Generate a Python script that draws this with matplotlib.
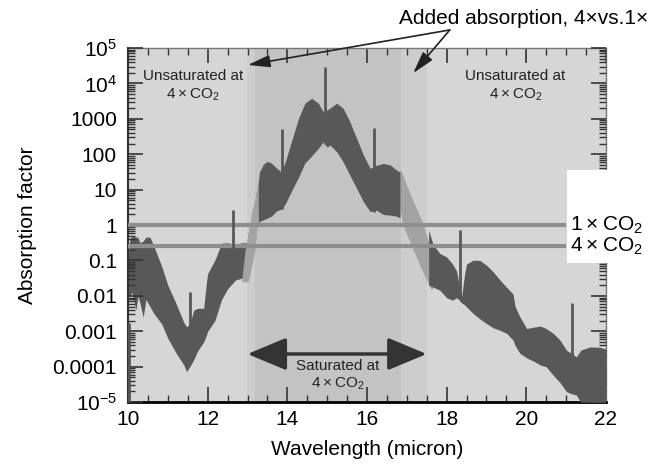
import numpy as np
import matplotlib.pyplot as plt
from matplotlib.ticker import MultipleLocator, FixedLocator, FixedFormatter, NullFormatter
from matplotlib.patches import Rectangle

plt.rcParams['font.family'] = ['Liberation Sans', 'DejaVu Sans']
plt.rcParams['mathtext.fontset'] = 'custom'
plt.rcParams['mathtext.rm'] = 'Liberation Sans'
plt.rcParams['mathtext.it'] = 'Liberation Sans:italic'

# spectrum envelopes, log10 of the absorption factor
# left wing (dark)
lw_x = [10.0, 10.05, 10.1, 10.2, 10.25, 10.3, 10.38, 10.45, 10.55, 10.65, 10.85, 11.0, 11.2, 11.4,
        11.47, 11.55, 11.65, 11.75, 11.9, 11.97, 12.0, 12.18, 12.35, 12.5, 12.7, 12.85, 12.98]
lw_hi = [-0.9, -0.37, -0.33, -0.33, -0.35, -0.5, -0.45, -0.34, -0.34, -0.6, -1.18, -1.7, -2.2, -2.75,
         -2.87, -2.8, -2.4, -2.35, -2.35, -1.6, -1.37, -0.99, -0.51, -0.5, -0.55, -0.5, -0.5]
lw_lo = [-2.0, -2.0, -1.9, -2.4, -2.0, -2.2, -2.6, -2.1, -2.3, -2.5, -2.8, -3.2, -3.6, -3.95,
         -4.14, -4.0, -3.8, -3.55, -3.3, -3.1, -3.0, -2.7, -2.1, -1.8, -1.55, -1.5, -1.45]

# central hump (dark)
hu_x = [13.27, 13.3, 13.4, 13.5, 13.6, 13.73, 13.85, 13.95, 14.1, 14.28, 14.44, 14.61, 14.78, 14.9,
        15.0, 15.07, 15.24, 15.4, 15.57, 15.74, 15.91, 16.08, 16.24, 16.41, 16.58, 16.75, 16.83]
hu_hi = [1.2, 1.5, 1.72, 1.8, 1.75, 1.61, 1.5, 1.79, 2.35, 3.01, 3.44, 3.58, 3.44, 3.2,
         3.25, 3.3, 3.44, 3.3, 2.92, 2.45, 1.98, 1.6, 1.69, 1.74, 1.7, 1.55, 1.5]
hu_lo = [0.0, 0.1, 0.15, 0.2, 0.25, 0.4, 0.45, 0.6, 0.95, 1.35, 1.75, 1.95, 2.17, 2.35,
         2.2, 2.26, 2.07, 1.79, 1.41, 1.04, 0.66, 0.38, 0.42, 0.3, 0.28, 0.25, 0.2]

# right wing (dark)
rw_x = [17.55, 17.66, 17.83, 18.0, 18.15, 18.25, 18.3, 18.38, 18.45, 18.5, 18.67, 18.84, 19.0, 19.17,
        19.34, 19.51, 19.67, 19.72, 19.84, 20.01, 20.2, 20.35, 20.5, 20.68, 20.85, 21.01, 21.1,
        21.26, 21.37, 21.6, 21.85, 22.0]
rw_hi = [-0.14, -0.55, -0.8, -0.9, -1.1, -1.3, -1.6, -2.0, -1.4, -1.1, -0.99, -1.0, -1.13, -1.32,
         -1.55, -1.76, -1.95, -2.3, -2.59, -2.92, -2.88, -2.85, -2.92, -3.06, -3.25, -3.53, -3.6,
         -3.72, -3.53, -3.44, -3.45, -3.5]
rw_lo = [-1.7, -1.75, -1.84, -2.05, -2.12, -2.05, -2.1, -2.2, -2.25, -2.31, -2.5, -2.65, -2.78, -2.9,
         -2.97, -3.06, -3.25, -3.4, -3.62, -3.75, -3.85, -3.95, -4.0, -4.24, -4.45, -4.7, -4.75,
         -4.8, -5.0, -5.0, -5.0, -5.0]

# light parts of the spectrum (added absorption), given as x edges per log level
ll_y = [-1.6, -0.7, 0.33, 0.99, 1.2]
ll_xl = [12.85, 12.94, 13.1, 13.23, 13.27]
ll_xr = [13.02, 13.19, 13.27, 13.29, 13.29]
rl_y = [-1.8, -1.2, -0.61, 0.0, 0.5, 1.0, 1.55]
rl_xl = [17.6, 17.35, 17.13, 16.9, 16.83, 16.83, 16.83]
rl_xr = [17.66, 17.66, 17.58, 17.42, 17.23, 17.04, 16.85]

# narrow spikes
spike_x = [10.02, 11.56, 12.64, 13.87, 14.95, 16.17, 18.34, 21.16]
spike_top = [-2.77, -1.88, 0.42, 2.7, 4.47, 2.73, -0.14, -2.21]
spike_bot = [-5.0, -2.9, -0.75, 0.45, 2.3, 0.38, -2.1, -4.7]

# thresholds
thresholds = [1.0, 0.25]
threshold_labels = ['1\u2009×\u2009CO$_2$', '4\u2009×\u2009CO$_2$']

# shaded wavelength bands
sat_band = (13.2, 16.85)
added_bands = [(12.98, 13.2), (16.85, 17.5)]

yticks = [1e5, 1e4, 1e3, 1e2, 1e1, 1, 0.1, 0.01, 0.001, 0.0001, 1e-5]
ytick_labels = ['$10^5$', '$10^4$', '1000', '100', '10', '1', '0.1', '0.01', '0.001', '0.0001', '$10^{-5}$']
yminor = [m * d for d in yticks[1:] for m in range(2, 10)]

dark = '#585858'
light = '#a3a3a3'

fig = plt.figure(figsize=(6.6, 4.66), dpi=100)
ax = fig.add_axes([0.194, 0.137, 0.724, 0.760])
ax.set_facecolor('#d6d6d6')
ax.set_yscale('log')
ax.set_xlim(10, 22)
ax.set_ylim(1e-5, 1e5)

ax.axvspan(*sat_band, color='#c3c3c3', lw=0, zorder=0.5)
for b in added_bands:
    ax.axvspan(*b, color='#cdcdcd', lw=0, zorder=0.5)

p = lambda a: 10.0 ** np.array(a)
ax.fill_between(lw_x, p(lw_lo), p(lw_hi), color=dark, lw=0, zorder=3)
ax.fill_betweenx(p(ll_y), ll_xl, ll_xr, color=light, lw=0, zorder=3.1)
ax.fill_betweenx(p(rl_y), rl_xl, rl_xr, color=light, lw=0, zorder=3.1)
ax.fill_between(hu_x, p(hu_lo), p(hu_hi), color=dark, lw=0, zorder=3.2)
ax.fill_between(rw_x, p(rw_lo), p(rw_hi), color=dark, lw=0, zorder=3.4)

ax.hlines(thresholds, 10, 21.0, color='#8e8e8e', lw=3, zorder=4)
ax.vlines(spike_x, p(spike_bot), p(spike_top), color=dark, lw=2, zorder=5)

# white box behind the threshold labels
ax.add_patch(Rectangle((0.918, 0.393), 0.2, 0.262, transform=ax.transAxes,
                       facecolor='white', edgecolor='none', clip_on=False, zorder=6))
for yv, lab in zip(thresholds, threshold_labels):
    ax.text(21.1, yv, lab, fontsize=15, va='center', ha='left', zorder=7, clip_on=False)

# ticks
ax.xaxis.set_major_locator(MultipleLocator(2))
ax.xaxis.set_minor_locator(MultipleLocator(0.5))
ax.yaxis.set_major_locator(FixedLocator(yticks))
ax.yaxis.set_major_formatter(FixedFormatter(ytick_labels))
ax.yaxis.set_minor_locator(FixedLocator(yminor))
ax.yaxis.set_minor_formatter(NullFormatter())
ax.tick_params(which='both', direction='in', top=True, right=True, color='#333', labelsize=15)
ax.tick_params(which='major', length=11, width=1.2)
ax.tick_params(which='minor', length=5, width=1)
ax.tick_params(axis='x', pad=6)
ax.tick_params(axis='y', pad=8)
ax.yaxis.set_zorder(3.3)

for s in ['top', 'right']:
    ax.spines[s].set_color('#777')
    ax.spines[s].set_linewidth(1)
ax.spines['bottom'].set_color('black')
ax.spines['bottom'].set_linewidth(2)
ax.spines['left'].set_color('#333')
ax.spines['left'].set_linewidth(1.5)
ax.spines['left'].set_zorder(3.3)

ax.set_xlabel('Wavelength (micron)', fontsize=15)
ax.set_ylabel('Absorption factor', fontsize=15)
ax.xaxis.set_label_coords(0.5, -0.108)
ax.yaxis.set_label_coords(-0.19, 0.5)

# annotations
ax.text(11.63, 10 ** 3.93, 'Unsaturated at\n4\u2009×\u2009CO$_2$', fontsize=11, ha='center', va='center',
        multialignment='center', linespacing=1.25, color='#222', zorder=7)
ax.text(19.73, 10 ** 3.93, 'Unsaturated at\n4\u2009×\u2009CO$_2$', fontsize=11, ha='center', va='center',
        multialignment='center', linespacing=1.25, color='#222', zorder=7)
ax.text(15.27, 10 ** -4.24, 'Saturated at\n4\u2009×\u2009CO$_2$', fontsize=11, ha='center', va='center',
        multialignment='center', linespacing=1.25, color='#222', zorder=7)
ax.annotate('', xy=(13.0, 10 ** -3.64), xytext=(17.5, 10 ** -3.64),
            arrowprops=dict(arrowstyle='<|-|>,head_length=1.2,head_width=0.5', lw=2.5,
                            color='#333', mutation_scale=20, shrinkA=0, shrinkB=0), zorder=7)

fig.text(0.794, 0.961, 'Added absorption, 4×vs.1×', fontsize=15, ha='center', va='center')
for tx, ty in [(13.01, 4.52), (17.16, 4.29)]:
    ax.annotate('', xy=(tx, 10 ** ty), xytext=(18.08, 10 ** 5.51), annotation_clip=False,
                arrowprops=dict(arrowstyle='-|>,head_length=0.9,head_width=0.25', lw=1.2,
                                color='#222', mutation_scale=15, shrinkA=0, shrinkB=0), zorder=7)

fig.savefig('out.png', dpi=100)
